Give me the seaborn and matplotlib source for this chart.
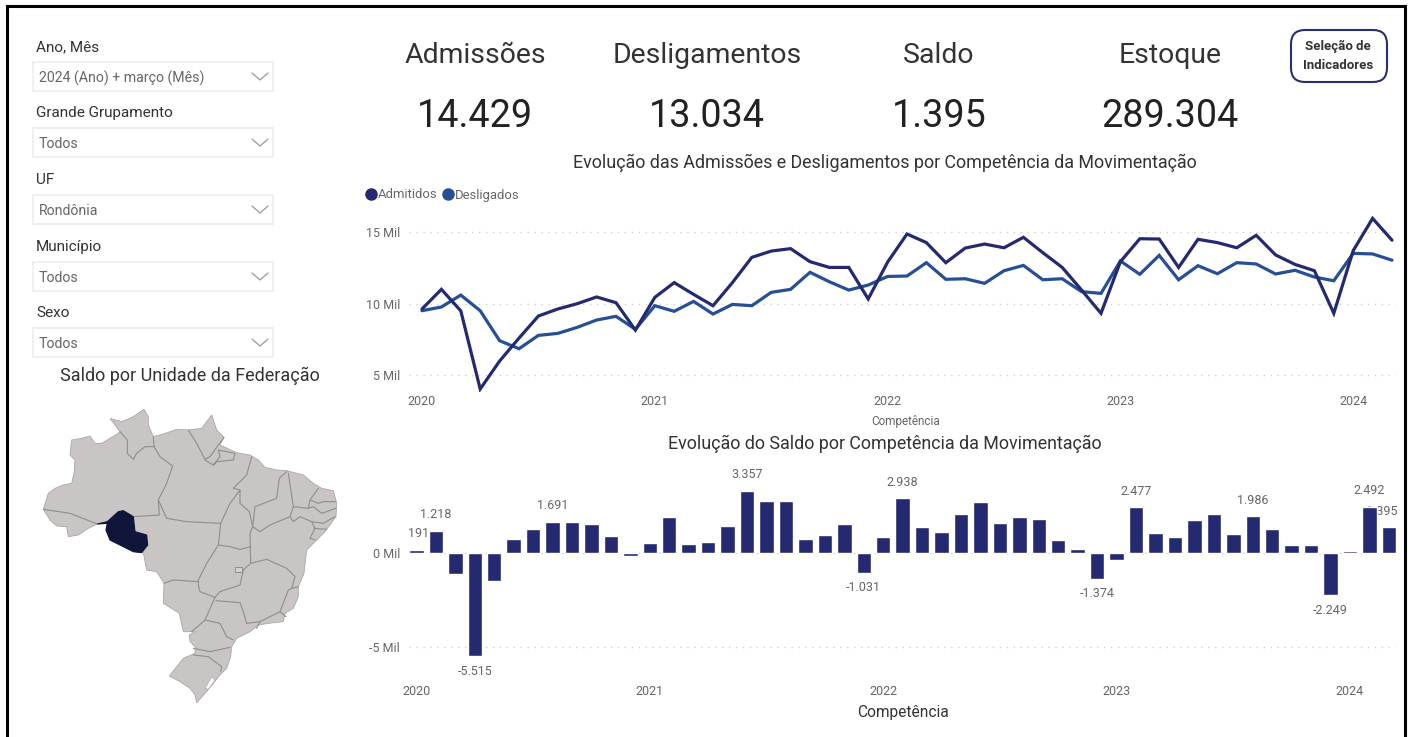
import matplotlib
matplotlib.use("Agg")
import matplotlib.pyplot as plt
import seaborn as sns
import pandas as pd
from matplotlib.lines import Line2D
from matplotlib.patches import FancyBboxPatch, Polygon, Rectangle

# ---------- data ----------
year_labels = ["2020", "2021", "2022", "2023", "2024"]
admitidos = [9630, 11000, 9500, 4050, 6000, 7600, 9140, 9630, 10000, 10470, 10070, 8160,
             10440, 11470, 10650, 9860, 11470, 13230, 13670, 13840, 12930, 12530, 12530, 10330,
             12900, 14860, 14260, 12860, 13880, 14160, 13900, 14630, 13560, 12530, 10950, 9330,
             12930, 14530, 14510, 12530, 14490, 14260, 13900, 14770, 13400, 12740, 12300, 9330,
             13700, 15950, 14429]
desligados = [9510, 9770, 10600, 9510, 7420, 6860, 7790, 7930, 8350, 8860, 9120, 8210,
              9860, 9470, 10160, 9280, 9950, 9860, 10790, 11000, 12190, 11530, 10950, 11300,
              11900, 11930, 12860, 11700, 11740, 11420, 12300, 12670, 11670, 11740, 10840, 10720,
              12980, 12050, 13370, 11670, 12650, 12090, 12860, 12770, 12070, 12330, 11860, 11600,
              13510, 13470, 13034]
saldo = [191, 1218, -1090, -5515, -1480, 750, 1300, 1691, 1660, 1590, 950, -170,
         570, 1960, 480, 590, 1480, 3357, 2800, 2820, 790, 960, 1550, -1031,
         870, 2938, 1390, 1160, 2100, 2750, 1625, 1930, 1840, 730, 210, -1374,
         -380, 2477, 1110, 890, 1800, 2120, 1050, 1986, 1300, 430, 430, -2249,
         140, 2492, 1395]
labelled_months = [0, 1, 3, 7, 17, 23, 25, 35, 37, 43, 47, 49, 50]
kpi_names = ["Admissões", "Desligamentos", "Saldo", "Estoque"]
kpi_values = ["14.429", "13.034", "1.395", "289.304"]
slicer_names = ["Ano, Mês", "Grande Grupamento", "UF", "Município", "Sexo"]
slicer_values = ["2024 (Ano) + março (Mês)", "Todos", "Rondônia", "Todos", "Todos"]

# Map geometry, in map-panel units: the country outline, Rondônia, and the state borders
brazil = [(70,448),(85,400),(105,385),(130,375),(155,370),(162,340),(165,300),(150,285),(155,240),(185,235),
          (210,228),(225,250),(245,250),(270,235),(292,222),(300,215),(270,175),(305,185),(340,170),(372,148),
          (385,170),(385,195),(400,230),(430,222),(470,208),(505,210),(545,205),(560,185),(575,165),(590,210),
          (612,232),(600,255),(650,278),(670,282),(690,285),(715,300),(735,322),(770,330),(800,332),(850,345),
          (880,370),(905,385),(940,392),(950,430),(948,470),(915,515),(885,545),(860,570),(852,640),(835,680),
          (835,710),(820,745),(795,760),(790,785),(745,790),(715,795),(690,815),(650,835),(635,860),(632,890),
          (620,925),(600,945),(580,970),(555,1000),(530,1028),(525,1005),(510,985),(480,965),(448,948),(490,895),
          (525,880),(525,860),(510,845),(508,825),(525,815),(490,815),(478,760),(430,730),(432,670),(410,635),
          (380,630),(370,578),(340,575),(270,540),(258,510),(262,490),(232,492),(205,505),(175,525),(145,530),
          (140,500),(110,498),(90,480)]
rondonia = [(232,492),(262,485),(295,455),(310,452),(340,470),(345,515),(380,525),(383,555),(365,578),(340,575),
            (270,540),(258,510),(262,490)]
lagoon = [(555,985),(575,950),(585,960),(565,988)]
federal_district = [(645,622),(665,622),(665,635),(645,635)]
state_borders = [
    [(70,448),(150,460),(232,492)],
    [(300,215),(322,240),(322,280),(340,298),(350,280),(375,260),(402,260)],
    [(400,230),(402,260),(420,290),(458,318),(440,370),(415,420),(418,465),(340,470)],
    [(415,420),(440,475),(500,485),(602,490)],
    [(505,210),(530,250),(555,298),(570,290),(590,262),(612,232)],
    [(555,300),(580,315),(600,290),(595,270),(645,280),(640,300),(590,305),(580,315)],
    [(695,290),(680,345),(640,385),(660,390),(630,430),(602,490),(595,555),(630,560),(660,568),(692,560)],
    [(660,390),(660,430),(688,455),(698,500),(690,520),(692,610)],
    [(698,500),(705,440),(770,415),(778,355),(800,335)],
    [(698,500),(720,515),(750,495),(810,470),(820,440),(805,340)],
    [(820,440),(865,445),(870,420),(895,385)],
    [(870,420),(895,430),(910,425),(948,425)],
    [(865,445),(880,440),(905,460),(948,445)],
    [(810,470),(820,485),(840,470),(875,485),(910,490),(945,470)],
    [(875,485),(885,505),(870,535),(885,540)],
    [(882,505),(920,508)],
    [(692,610),(740,598),(800,625),(825,650),(815,685),(835,680)],
    [(815,685),(805,690),(780,755),(720,785),(680,790),(670,755),(660,728),(588,722)],
    [(780,755),(798,770)],
    [(692,610),(670,630),(660,675),(600,695),(585,712)],
    [(595,555),(560,610),(535,660),(535,675),(540,695),(585,712),(555,780),(515,815)],
    [(432,670),(460,660),(535,665)],
    [(555,780),(600,790),(620,830),(640,840)],
    [(720,785),(710,805)],
    [(520,865),(570,875),(630,862)],
    [(520,885),(565,890),(605,920),(602,935)],
]

# ---------- style ----------
W, H = 1410, 737
NAVY, BLUE = "#252A70", "#264F94"
DARK, MID = "#333333", "#666666"
sns.set_theme(style="white")
plt.rcParams["font.family"] = ["Roboto", "DejaVu Sans"]
px = 1 / 1.3889  # font size in points for one pixel at 100 dpi


def panel(left, top, right, bottom):
    return fig.add_axes([left / W, 1 - bottom / H, (right - left) / W, (bottom - top) / H])


fig = plt.figure(figsize=(W / 100, H / 100), dpi=100, facecolor="white")

# Page overlay in pixel units
page = fig.add_axes([0, 0, 1, 1], zorder=0)
page.set_xlim(0, W)
page.set_ylim(H, 0)
page.axis("off")
page.plot([6.5, 6.5, 1404.5, 1404.5], [H, 5.5, 5.5, H], color="#000000", lw=2.2, solid_joinstyle="miter")

# Slicers
for name, value, top in zip(slicer_names, slicer_values, [62, 128, 195, 262, 328]):
    page.text(36, top - 15, name, fontsize=15.2 * px, color=DARK, va="center", ha="left")
    page.add_patch(Rectangle((32.5, top), 240, 29, fc="white", ec="#F0F0F0", lw=1.4))
    page.text(39, top + 16, value, fontsize=14.1 * px, color=MID, va="center", ha="left")
    page.plot([252, 260, 268], [top + 11, top + 18, top + 11], color="#999999", lw=0.9)

# KPI cards
for name, value, cx in zip(kpi_names, kpi_values, [475, 707, 939, 1170]):
    page.text(cx, 55.5, name, fontsize=28.4 * px, color=DARK, ha="center", va="center")
    page.text(cx, 116, value, fontsize=37.8 * px, color="#222222", ha="center", va="center")

# Button
page.add_patch(FancyBboxPatch((1302, 41), 74, 30, boxstyle="round,pad=11,rounding_size=14",
                              fc="white", ec="#2B2F72", lw=1.5))
page.text(1338, 46.5, "Seleção de", fontsize=13.3 * px, fontweight="bold", color=DARK, ha="center", va="center")
page.text(1338, 65.5, "Indicadores", fontsize=13.3 * px, fontweight="bold", color=DARK, ha="center", va="center")

# Titles
page.text(885, 162.5, "Evolução das Admissões e Desligamentos por Competência da Movimentação",
          fontsize=17.9 * px, color=DARK, ha="center", va="center")
page.text(885, 443.5, "Evolução do Saldo por Competência da Movimentação",
          fontsize=17.9 * px, color=DARK, ha="center", va="center")
page.text(190, 375.5, "Saldo por Unidade da Federação", fontsize=18 * px, color=DARK, ha="center", va="center")

# Map
geo = panel(20, 360, 360, 710)
geo.set_xlim(0, 1020)
geo.set_ylim(1050, 0)
geo.axis("off")
geo.patch.set_alpha(0)
geo.add_patch(Polygon(brazil, closed=True, fc="#C8C5C4", ec="#A9A7A7", lw=0.6, zorder=1))
for border in state_borders:
    xs, ys = zip(*border)
    geo.plot(xs, ys, color="#8F8D8D", lw=0.8, zorder=2, solid_joinstyle="round")
geo.add_patch(Polygon(federal_district, closed=True, fc="#D4D2D1", ec="#8F8D8D", lw=0.7, zorder=3))
geo.add_patch(Polygon(lagoon, closed=True, fc="white", ec="#A9A7A7", lw=0.5, zorder=3))
geo.add_patch(Polygon(rondonia, closed=True, fc="#10163A", ec="#10163A", lw=0.8, zorder=4))

# Line chart
n_months = len(admitidos)
months = list(range(n_months))
lines = pd.DataFrame({
    "Competência": months * 2,
    "Valor": admitidos + desligados,
    "Série": ["Admitidos"] * n_months + ["Desligados"] * n_months,
})
top_px, bottom_px, left_px, right_px = 215, 392, 409, 1396
ax = panel(left_px, top_px, right_px, bottom_px)
ax.patch.set_alpha(0)
sns.lineplot(data=lines, x="Competência", y="Valor", hue="Série", hue_order=["Desligados", "Admitidos"],
             palette={"Admitidos": NAVY, "Desligados": BLUE}, linewidth=2.3, legend=False, ax=ax,
             errorbar=None, solid_joinstyle="miter")
ax.set_xlim((left_px - 422) / 19.4, (right_px - 422) / 19.4)
ax.set_ylim(10000 + (303.7 - bottom_px) * 5000 / 71.7, 10000 + (303.7 - top_px) * 5000 / 71.7)
ax.set_yticks([5000, 10000, 15000], ["5 Mil", "10 Mil", "15 Mil"])
ax.set_xticks(months[::12], year_labels)
ax.grid(axis="y", color="#CFCFCF", linestyle=(0, (1, 4)), linewidth=1)
ax.grid(axis="x", visible=False)
ax.tick_params(axis="y", length=0, pad=6.5, labelsize=12.5 * px, labelcolor=MID)
ax.tick_params(axis="x", length=0, pad=2, labelsize=12.5 * px, labelcolor=MID)
sns.despine(ax=ax, left=True, bottom=True)
ax.set_ylabel("")
ax.set_xlabel("Competência", fontsize=11.7 * px, color=MID)
ax.xaxis.set_label_coords((906 - left_px) / (right_px - left_px), -(421 - bottom_px) / (bottom_px - top_px))
ax.xaxis.label.set_verticalalignment("center")
ax.legend(
    handles=[Line2D([], [], marker="o", linestyle="", markersize=8, color=NAVY, label="Admitidos"),
             Line2D([], [], marker="o", linestyle="", markersize=8, color=BLUE, label="Desligados")],
    loc="center left", bbox_to_anchor=(368 / W, 1 - 195 / H), bbox_transform=fig.transFigure, ncol=2,
    frameon=False, fontsize=13 * px, handlelength=0.45, handletextpad=0.3, columnspacing=0.6, borderpad=0,
    borderaxespad=0, labelcolor=MID,
)

# Bar chart
top_px, bottom_px = 470, 665
bx = panel(left_px, top_px, right_px, bottom_px)
bx.patch.set_alpha(0)
sns.barplot(x=months, y=saldo, color=NAVY, width=0.745, saturation=1, ax=bx, zorder=3)
bx.set_xlim((left_px - 416.4) / 19.45, (right_px - 416.4) / 19.45)
bx.set_ylim((553.3 - bottom_px) * 5000 / 93.4, (553.3 - top_px) * 5000 / 93.4)
bx.set_yticks([-5000, 0], ["-5 Mil", "0 Mil"])
bx.set_xticks(months[::12], year_labels)
bx.grid(axis="y", color="#CFCFCF", linestyle=(0, (1, 4)), linewidth=1)
bx.grid(axis="x", visible=False)
bx.set_axisbelow(True)
bx.tick_params(axis="y", length=0, pad=6.5, labelsize=12.5 * px, labelcolor=MID)
bx.tick_params(axis="x", length=0, pad=14.5, labelsize=12.5 * px, labelcolor=MID)
sns.despine(ax=bx, left=True, bottom=True)
bx.set_ylabel("")
bx.set_xlabel("Competência", fontsize=15.5 * px, color=DARK)
bx.xaxis.set_label_coords((903 - left_px) / (right_px - left_px), -(712 - bottom_px) / (bottom_px - top_px))
bx.xaxis.label.set_verticalalignment("center")
shift_px = {0: 2, 50: -7}
for i in labelled_months:
    v = saldo[i]
    bx.annotate(f"{v:,}".replace(",", "."), (i, v),
                xytext=(shift_px.get(i, 0) * px, (16 if v > 0 else -15) * px),
                textcoords="offset points", ha="center", va="center",
                fontsize=12.5 * px, color=MID, zorder=2, annotation_clip=False)

fig.savefig("out.png", dpi=100, facecolor="white")
